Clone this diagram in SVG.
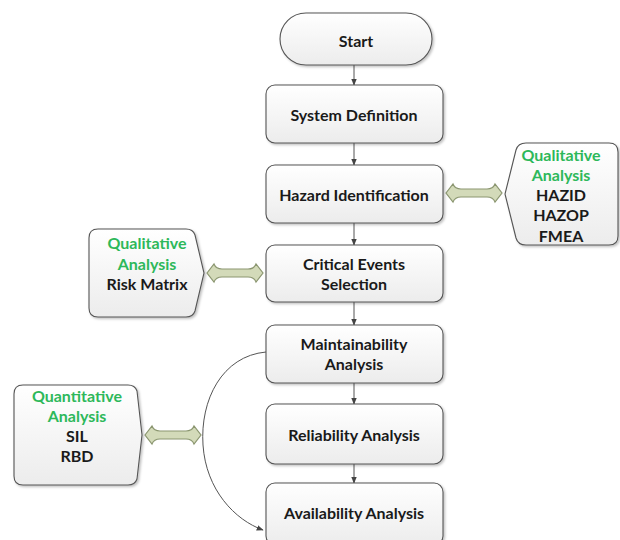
<svg xmlns="http://www.w3.org/2000/svg" width="620" height="540" viewBox="0 0 620 540">
<defs>
<linearGradient id="g" x1="0" y1="0" x2="0" y2="1">
<stop offset="0" stop-color="#ffffff"/>
<stop offset="1" stop-color="#ececec"/>
</linearGradient>
<filter id="sh" x="-10%" y="-10%" width="130%" height="130%">
<feDropShadow dx="1.5" dy="1.5" stdDeviation="1.2" flood-color="#000" flood-opacity="0.25"/>
</filter>
<marker id="ah" viewBox="0 0 10 10" refX="9" refY="5" markerWidth="7" markerHeight="7" orient="auto" markerUnits="userSpaceOnUse">
<path d="M0,1 L10,5 L0,9 Z" fill="#444"/>
</marker>
<path id="dbl" d="M-28,0 L-21,-9 Q-19,-4 -13,-4 L13,-4 Q19,-4 21,-9 L28,0 L21,9 Q19,4 13,4 L-13,4 Q-19,4 -21,9 Z"/>
</defs>
<style>
.box{fill:url(#g);stroke:#555;stroke-width:1.1;filter:url(#sh)}
.t{font-family:Lato,"Open Sans","Liberation Sans",sans-serif;font-weight:bold;font-size:16px;fill:#1a1a1a;text-anchor:middle;dominant-baseline:central}
.gr{fill:#2db85a}
.con{stroke:#555;stroke-width:1;fill:none;marker-end:url(#ah)}
.da{fill:#d3dab9;stroke:#8b9670;stroke-width:1.2}
</style>
<rect width="620" height="540" fill="#ffffff"/>
<g id="connectors">
<line class="con" x1="354" y1="65" x2="354" y2="85"/>
<line class="con" x1="354" y1="143" x2="354" y2="165"/>
<line class="con" x1="354" y1="223" x2="354" y2="245"/>
<line class="con" x1="354" y1="302" x2="354" y2="325"/>
<line class="con" x1="354" y1="383" x2="354" y2="404"/>
<line class="con" x1="354" y1="464" x2="354" y2="483"/>
<path class="con" d="M266,352 C222,356 200,400 203,445 C206,490 235,520 263,530"/>
<use href="#dbl" class="da" transform="translate(474,193)"/>
<use href="#dbl" class="da" transform="translate(235,273)"/>
<use href="#dbl" class="da" transform="translate(173,435)"/>
</g>
<g id="start">
<rect class="box" x="280" y="13" width="152" height="52" rx="26"/>
<text class="t" x="356" y="40">Start</text>
</g>
<g id="sysdef">
<rect class="box" x="266" y="85" width="177" height="58" rx="9"/>
<text class="t" x="354" y="114">System Definition</text>
</g>
<g id="hazid">
<rect class="box" x="266" y="165" width="177" height="58" rx="9"/>
<text class="t" x="354" y="194">Hazard Identification</text>
</g>
<g id="critical">
<rect class="box" x="266" y="245" width="177" height="57" rx="9"/>
<text class="t" x="354" y="263">Critical Events</text>
<text class="t" x="354" y="283">Selection</text>
</g>
<g id="maint">
<rect class="box" x="266" y="325" width="177" height="58" rx="9"/>
<text class="t" x="354" y="343">Maintainability</text>
<text class="t" x="354" y="363">Analysis</text>
</g>
<g id="reliab">
<rect class="box" x="266" y="404" width="177" height="60" rx="9"/>
<text class="t" x="354" y="434">Reliability Analysis</text>
</g>
<g id="avail">
<rect class="box" x="266" y="483" width="177" height="62" rx="9"/>
<text class="t" x="354" y="512">Availability Analysis</text>
</g>
<g id="qual-right">
<path class="box" d="M526,143 L609,143 Q618,143 618,152 L618,236 Q618,245 609,245 L526,245 Q518,245 516,238 L505,194 L516,150 Q518,143 526,143 Z"/>
<text class="t gr" x="561" y="154">Qualitative</text>
<text class="t gr" x="561" y="174">Analysis</text>
<text class="t" x="561" y="194">HAZID</text>
<text class="t" x="561" y="214">HAZOP</text>
<text class="t" x="561" y="235">FMEA</text>
</g>
<g id="qual-left">
<path class="box" d="M98,229 L186,229 Q193,229 195,235 L204,273 L195,311 Q193,317 186,317 L98,317 Q89,317 89,308 L89,238 Q89,229 98,229 Z"/>
<text class="t gr" x="147" y="242">Qualitative</text>
<text class="t gr" x="147" y="263">Analysis</text>
<text class="t" x="147" y="283">Risk Matrix</text>
</g>
<g id="quant">
<path class="box" d="M23,385 L128,385 Q135,385 137,391 L142,435 L137,479 Q135,485 128,485 L23,485 Q14,485 14,476 L14,394 Q14,385 23,385 Z"/>
<text class="t gr" x="77" y="395">Quantitative</text>
<text class="t gr" x="77" y="415">Analysis</text>
<text class="t" x="77" y="435">SIL</text>
<text class="t" x="77" y="455">RBD</text>
</g>
</svg>
